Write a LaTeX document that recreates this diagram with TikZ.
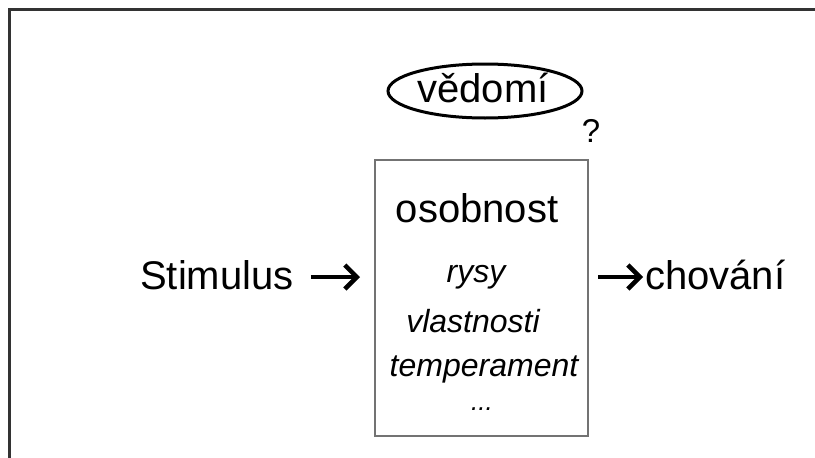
\documentclass[tikz,border=0pt]{standalone}
\usepackage{fontspec}
\setmainfont{Liberation Sans}
\usetikzlibrary{arrows.meta,shapes.geometric}
\begin{document}
\begin{tikzpicture}[x=1pt,y=-1pt,
  label/.style={font=\fontsize{40}{44}\selectfont, inner sep=0pt, anchor=base},
  trait/.style={font=\fontsize{32}{36}\selectfont\itshape, inner sep=0pt, anchor=base},
  flow/.style={line width=4.5pt, -{Straight Barb[length=12pt,width=24pt,line width=4.5pt]}},
  frameline/.style={line width=3pt, draw=black!80}]
  \useasboundingbox (0,0) rectangle (815,458);
  \fill[white] (0,0) rectangle (815,458);
  % frame: top and left edges
  \draw[frameline] (8,9) -- (830,9);
  \draw[frameline] (9,9) -- (9,470);
  % consciousness ellipse
  \node[draw, ellipse, line width=3pt, minimum width=194pt, minimum height=54pt, inner sep=0pt] (ved) at (485,91) {};
  \node[label] (vedt) at (483,102) {vědomí};
  \node[font=\fontsize{33}{36}\selectfont, inner sep=0pt, anchor=base] (q) at (591,142) {?};
  % personality box
  \node[draw=black!55, line width=2pt, minimum width=213pt, minimum height=276pt, inner sep=0pt] (box) at (481.5,298) {};
  \node[label] (oso) at (477,222) {osobnost};
  \node[trait] (t1) at (476,282) {rysy};
  \node[trait] (t2) at (473,332) {vlastnosti};
  \node[trait] (t3) at (484,376) {temperament};
  \node[trait, font=\fontsize{26}{30}\selectfont\itshape] (t4) at (482,410) {...};
  % input and output
  \node[label, anchor=base west] (stim) at (140,289) {Stimulus};
  \node[label, anchor=base west] (beh) at (645,289) {chování};
  \draw[flow, shorten <=17pt, shorten >=14pt]
    ([yshift=12pt]stim.base east) -- ([yshift=12pt]stim.base east -| box.west);
  \draw[flow, shorten <=9pt, shorten >=2pt]
    ([yshift=12pt]beh.base west -| box.east) -- ([yshift=12pt]beh.base west);
\end{tikzpicture}
\end{document}
